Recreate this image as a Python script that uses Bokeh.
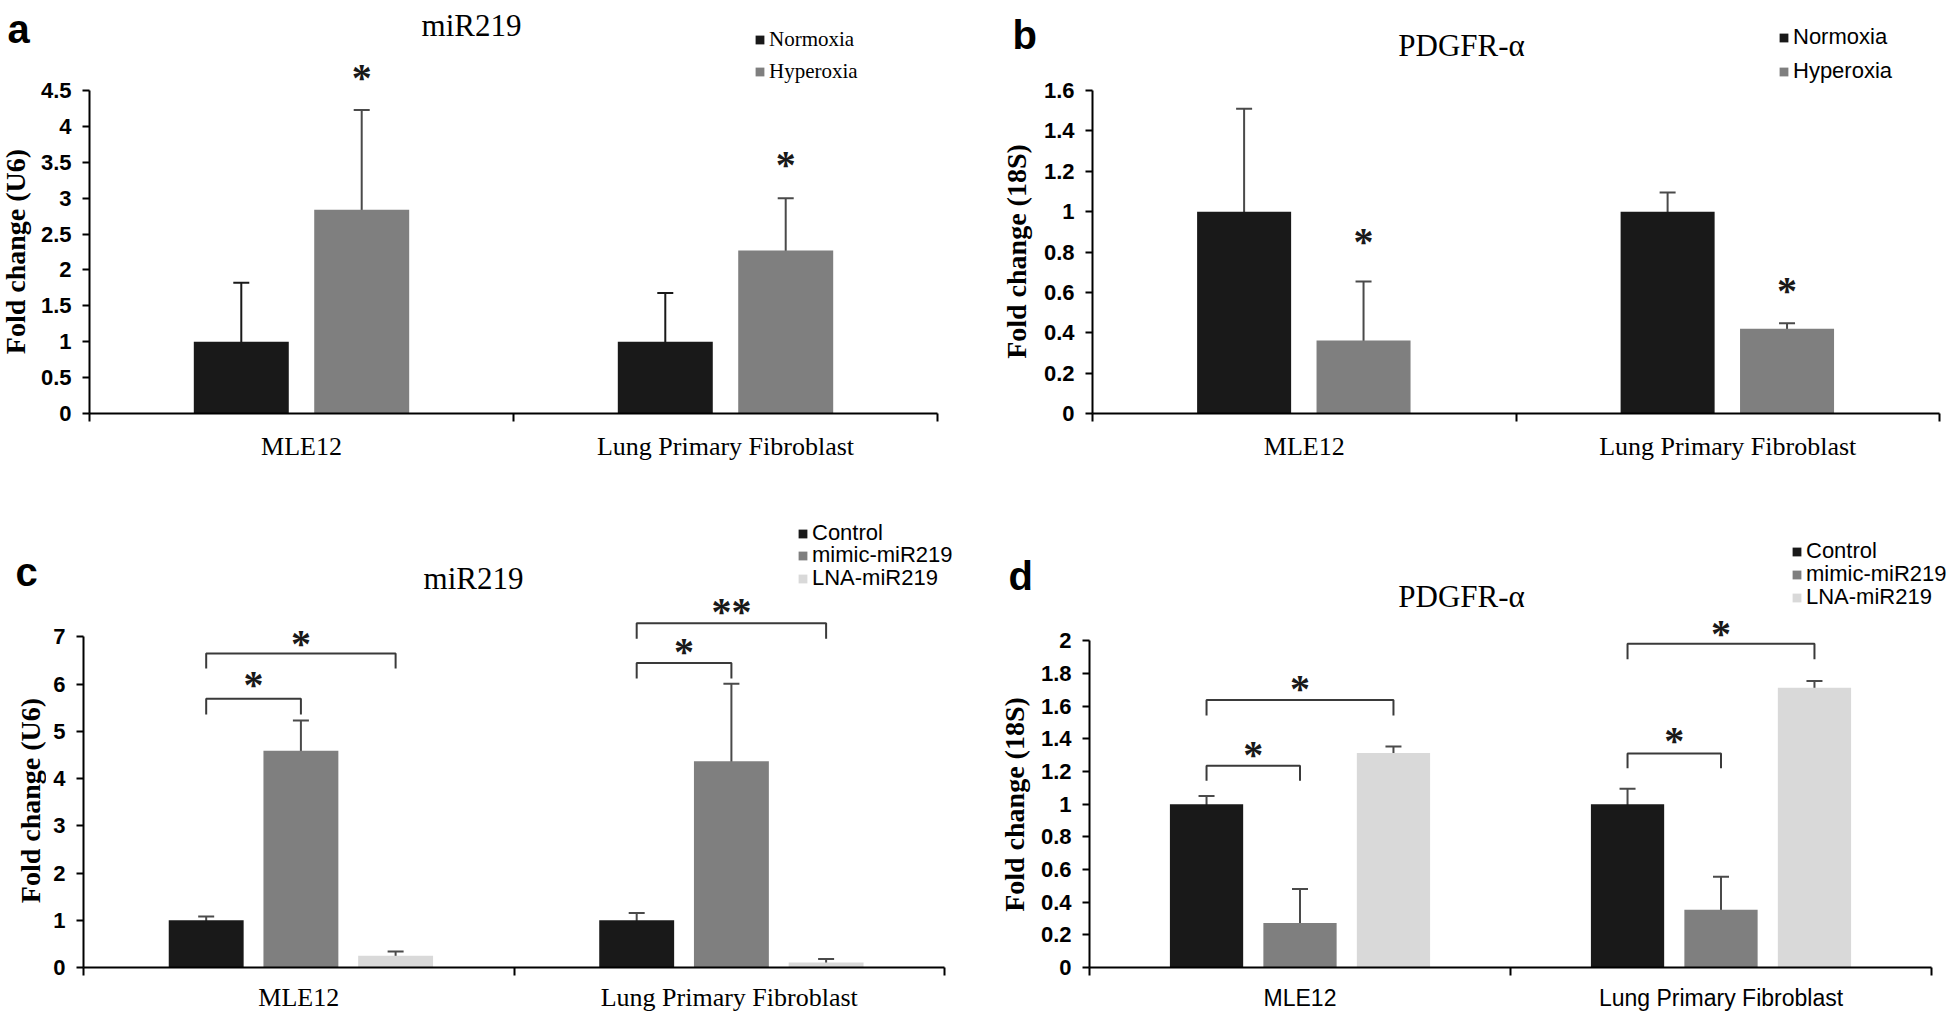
import math
from bokeh.plotting import figure
from bokeh.models import (ColumnDataSource, Whisker, TeeHead, FixedTicker, Label,
                          Legend, LegendItem)
from bokeh.layouts import column, row
from bokeh.embed import file_html
from bokeh.resources import INLINE
from bokeh.core.properties import value

# ---------------- data ----------------
CATEGORIES = ["MLE12", "Lung Primary Fibroblast"]

# panel a : miR219 (U6)
A_NORMOXIA = [1.00, 1.00]
A_NORMOXIA_HI = [1.82, 1.68]
A_NORMOXIA_LO = [0.18, 0.32]
A_HYPEROXIA = [2.84, 2.27]
A_HYPEROXIA_HI = [4.23, 3.00]
A_HYPEROXIA_LO = [1.47, 1.54]
A_STAR_Y = [4.73, 3.52]
A_YTICKS = [0, 0.5, 1, 1.5, 2, 2.5, 3, 3.5, 4, 4.5]

# panel b : PDGFR-a (18S)
B_NORMOXIA = [1.00, 1.00]
B_NORMOXIA_HI = [1.51, 1.095]
B_NORMOXIA_LO = [0.49, 0.91]
B_HYPEROXIA = [0.362, 0.42]
B_HYPEROXIA_HI = [0.654, 0.447]
B_HYPEROXIA_LO = [0.074, 0.405]
B_STAR_Y = [0.87, 0.627]
B_YTICKS = [0, 0.2, 0.4, 0.6, 0.8, 1, 1.2, 1.4, 1.6]

# panel c : miR219 (U6), transfection
C_CONTROL = [1.00, 1.00]
C_CONTROL_HI = [1.08, 1.155]
C_CONTROL_LO = [0.89, 0.815]
C_MIMIC = [4.59, 4.37]
C_MIMIC_HI = [5.23, 6.01]
C_MIMIC_LO = [4.00, 2.71]
C_LNA = [0.25, 0.106]
C_LNA_HI = [0.34, 0.18]
C_LNA_LO = [0.18, 0.02]
C_BR_CAT = [0, 0, 1, 1]
C_BR_FROM = [0, 0, 0, 0]
C_BR_TO = [1, 2, 1, 2]
C_BR_Y = [5.69, 6.65, 6.45, 7.29]
C_BR_LEG = [5.36, 6.33, 6.12, 6.96]
C_BR_MARK = ["*", "*", "*", "**"]
C_BR_MARK_Y = [6.07, 6.95, 6.77, 7.63]
C_YTICKS = [0, 1, 2, 3, 4, 5, 6, 7]

# panel d : PDGFR-a (18S), transfection
D_CONTROL = [1.00, 1.00]
D_CONTROL_HI = [1.05, 1.095]
D_CONTROL_LO = [0.964, 0.913]
D_MIMIC = [0.273, 0.354]
D_MIMIC_HI = [0.48, 0.556]
D_MIMIC_LO = [0.07, 0.145]
D_LNA = [1.313, 1.713]
D_LNA_HI = [1.354, 1.754]
D_LNA_LO = [1.27, 1.673]
D_BR_CAT = [0, 0, 1, 1]
D_BR_FROM = [0, 0, 0, 0]
D_BR_TO = [1, 2, 1, 2]
D_BR_Y = [1.235, 1.638, 1.311, 1.982]
D_BR_LEG = [1.144, 1.544, 1.22, 1.887]
D_BR_MARK = ["*", "*", "*", "*"]
D_BR_MARK_Y = [1.33, 1.735, 1.412, 2.07]
D_YTICKS = [0, 0.2, 0.4, 0.6, 0.8, 1, 1.2, 1.4, 1.6, 1.8, 2]

# ---------------- styles ----------------
BLACK = "#191919"
GRAY = "#7f7f7f"
LIGHT = "#d9d9d9"
WHISK = "#4a4a4a"
BRACKET = "#3a3a3a"
SERIF = "Liberation Serif"
SANS = "Liberation Sans"
STAR_FS = 40
STAR_SHIFT = 4
LEGEND_ITEM_H = 28

ROW1_H, ROW1_B = 508, 95
ROW2_H, ROW2_B = 506, 45


def make_strip(width, height, border_b, letter, letter_xy, ylabel, ylabel_xy):
    """Narrow figure at the left of a panel holding the panel letter and y title."""
    s = figure(width=width, height=height, x_range=(0, 1), y_range=(0, 1),
               x_axis_type=None, y_axis_type=None, output_backend="svg",
               toolbar_location=None, min_border_left=0, min_border_right=0,
               min_border_top=0, min_border_bottom=border_b,
               outline_line_color=None,
               background_fill_color="white", border_fill_color="white")
    s.xgrid.visible = False
    s.ygrid.visible = False
    fb = height - border_b
    lx, ly = letter_xy
    s.add_layout(Label(x=lx, y=fb - ly, x_units="screen", y_units="screen",
                       text=letter, text_font=SANS, text_font_style="bold",
                       text_font_size="40px", text_color="black",
                       text_align="left", text_baseline="alphabetic"))
    ax, ay = ylabel_xy
    s.add_layout(Label(x=ax, y=fb - ay, x_units="screen", y_units="screen",
                       text=ylabel, text_font=SERIF, text_font_style="bold",
                       text_font_size="28px", text_color="black", angle=math.pi / 2,
                       text_align="center", text_baseline="middle"))
    return s


def make_panel(spec):
    W, H = spec["size"]
    L, Bb, top_axis, axis_right = spec["left"], spec["border_b"], spec["axis_top"], spec["axis_right"]
    B = H - Bb
    ncat = len(CATEGORIES)
    ymax = spec["yticks"][-1]
    yend = ymax * B / (B - top_axis)
    xend = ncat * (W - L) / (axis_right - L)
    p = figure(width=W, height=H, x_range=(0, xend), y_range=(0, yend),
               output_backend="svg", toolbar_location=None,
               min_border_left=L, min_border_right=0, min_border_top=0,
               min_border_bottom=Bb, outline_line_color=None,
               background_fill_color="white", border_fill_color="white")
    p.xgrid.visible = False
    p.ygrid.visible = False

    # y axis
    yticks = spec["yticks"]
    p.yaxis.ticker = FixedTicker(ticks=yticks)
    p.yaxis.major_label_overrides = {t: f"{t:g}" for t in yticks}
    p.yaxis.bounds = (0, ymax)
    p.yaxis.axis_line_width = 2
    p.yaxis.axis_line_color = "black"
    p.yaxis.major_tick_line_width = 2
    p.yaxis.major_tick_out = 7
    p.yaxis.major_tick_in = 0
    p.yaxis.minor_tick_out = 0
    p.yaxis.major_label_standoff = 11
    p.yaxis.major_label_text_font = SANS
    p.yaxis.major_label_text_font_style = "bold"
    p.yaxis.major_label_text_font_size = "22px"
    p.yaxis.major_label_text_color = "black"

    # x axis (category labels centred, boundary ticks)
    p.xaxis.ticker = FixedTicker(ticks=[i + 0.5 for i in range(ncat)],
                                 minor_ticks=list(range(ncat + 1)))
    p.xaxis.major_label_overrides = {i + 0.5: c for i, c in enumerate(CATEGORIES)}
    p.xaxis.bounds = (0, ncat)
    p.xaxis.axis_line_width = 2
    p.xaxis.axis_line_color = "black"
    p.xaxis.major_tick_out = 0
    p.xaxis.major_tick_in = 0
    p.xaxis.minor_tick_out = 8
    p.xaxis.minor_tick_in = 0
    p.xaxis.minor_tick_line_width = 2
    p.xaxis.minor_tick_line_color = "black"
    p.xaxis.major_label_standoff = spec["xlabel_standoff"]
    p.xaxis.major_label_text_font = spec["xlabel_font"]
    p.xaxis.major_label_text_font_size = spec["xlabel_size"]
    p.xaxis.major_label_text_color = "black"

    # bars + whiskers
    renderers = []
    xs_by_series = []
    for (name, vals, hi, lo, color, wcolor), off in zip(spec["series"], spec["offsets"]):
        xs = [i + 0.5 + off for i in range(ncat)]
        xs_by_series.append(xs)
        src = ColumnDataSource(dict(x=xs, top=vals, hi=hi, lo=lo))
        r = p.vbar(x="x", top="top", width=spec["bar_width"], bottom=0,
                   source=src, fill_color=color, line_color=None)
        renderers.append((name, r))
        w = Whisker(base="x", upper="hi", lower="lo", source=src,
                    line_color=wcolor, line_width=2,
                    upper_head=TeeHead(size=16, line_color=wcolor, line_width=2),
                    lower_head=TeeHead(size=16, line_color=wcolor, line_width=2))
        p.add_layout(w)

    star_style = dict(text_font=value(SERIF), text_font_style="bold",
                      text_font_size=f"{STAR_FS}px", text_color=BLACK,
                      text_align="center", text_baseline="alphabetic",
                      y_offset=STAR_SHIFT)
    if "stars" in spec:
        sidx, sy = spec["stars"]
        p.text(x=xs_by_series[sidx], y=sy, text=["*"] * len(sy), **star_style)

    if "brackets" in spec:
        cats, froms, tos, ys, legs, marks, marky = spec["brackets"]
        mxs, mys, tx = [], [], []
        for c, f, t, y, lg in zip(cats, froms, tos, ys, legs):
            x0 = xs_by_series[f][c]
            x1 = xs_by_series[t][c]
            mxs.append([x0, x0, x1, x1])
            mys.append([lg, y, y, lg])
            tx.append((x0 + x1) / 2)
        p.multi_line(xs=mxs, ys=mys, line_color=BRACKET, line_width=2)
        p.text(x=tx, y=marky, text=marks, **star_style)

    def scr(fx, fy):
        return int(round(fx - L)), int(round(B - fy))

    # title (inside the frame, which reaches the top of the figure)
    tx_, ty_ = scr(*spec["title_pos"])
    p.add_layout(Label(x=tx_, y=ty_, x_units="screen", y_units="screen",
                       text=spec["title"], text_font=SERIF, text_font_size="31px",
                       text_color="black", text_align="center",
                       text_baseline="alphabetic"))

    # legend: one entry per row so each row sits where it should
    lgx, rows = spec["legend_pos"]
    for (nm, r), rc in zip(renderers, rows):
        lox, loy = scr(lgx, rc + LEGEND_ITEM_H / 2)
        legend = Legend(items=[LegendItem(label=nm, renderers=[r])],
                        location=(lox, loy), glyph_width=11, glyph_height=11,
                        label_height=LEGEND_ITEM_H, spacing=0, padding=0, margin=0,
                        label_standoff=4, border_line_color=None,
                        background_fill_alpha=0,
                        label_text_font=spec["legend_font"],
                        label_text_font_size=spec["legend_size"],
                        label_text_color="black")
        p.add_layout(legend)
    return p


spec_a = dict(
    size=(946, ROW1_H), left=55, border_b=ROW1_B, axis_top=90, axis_right=903,
    yticks=A_YTICKS, bar_width=0.224, offsets=[-0.142, 0.142],
    series=[("Normoxia", A_NORMOXIA, A_NORMOXIA_HI, A_NORMOXIA_LO, BLACK, BLACK),
            ("Hyperoxia", A_HYPEROXIA, A_HYPEROXIA_HI, A_HYPEROXIA_LO, GRAY, WHISK)],
    stars=(1, A_STAR_Y),
    title="miR219", title_pos=(437, 25),
    legend_pos=(720, [39, 71]), legend_font=SERIF, legend_size="21px",
    xlabel_font=SERIF, xlabel_size="26px", xlabel_standoff=10,
)
spec_b = dict(
    size=(922, ROW1_H), left=56, border_b=ROW1_B, axis_top=90, axis_right=903,
    yticks=B_YTICKS, bar_width=0.222, offsets=[-0.142, 0.14],
    series=[("Normoxia", B_NORMOXIA, B_NORMOXIA_HI, B_NORMOXIA_LO, BLACK, WHISK),
            ("Hyperoxia", B_HYPEROXIA, B_HYPEROXIA_HI, B_HYPEROXIA_LO, GRAY, WHISK)],
    stars=(1, B_STAR_Y),
    title="PDGFR-\u03b1", title_pos=(425, 45),
    legend_pos=(742, [37, 71]), legend_font=SANS, legend_size="22px",
    xlabel_font=SERIF, xlabel_size="26px", xlabel_standoff=10,
)
spec_c = dict(
    size=(934, ROW2_H), left=37, border_b=ROW2_B, axis_top=129, axis_right=898,
    yticks=C_YTICKS, bar_width=0.174, offsets=[-0.215, 0.005, 0.225],
    series=[("Control", C_CONTROL, C_CONTROL_HI, C_CONTROL_LO, BLACK, WHISK),
            ("mimic-miR219", C_MIMIC, C_MIMIC_HI, C_MIMIC_LO, GRAY, WHISK),
            ("LNA-miR219", C_LNA, C_LNA_HI, C_LNA_LO, LIGHT, WHISK)],
    brackets=(C_BR_CAT, C_BR_FROM, C_BR_TO, C_BR_Y, C_BR_LEG, C_BR_MARK, C_BR_MARK_Y),
    title="miR219", title_pos=(427, 72),
    legend_pos=(751, [27, 49, 72]), legend_font=SANS, legend_size="22px",
    xlabel_font=SERIF, xlabel_size="26px", xlabel_standoff=7,
)
spec_d = dict(
    size=(924, ROW2_H), left=55, border_b=ROW2_B, axis_top=133, axis_right=897,
    yticks=D_YTICKS, bar_width=0.174, offsets=[-0.222, 0.0, 0.222],
    series=[("Control", D_CONTROL, D_CONTROL_HI, D_CONTROL_LO, BLACK, WHISK),
            ("mimic-miR219", D_MIMIC, D_MIMIC_HI, D_MIMIC_LO, GRAY, WHISK),
            ("LNA-miR219", D_LNA, D_LNA_HI, D_LNA_LO, LIGHT, WHISK)],
    brackets=(D_BR_CAT, D_BR_FROM, D_BR_TO, D_BR_Y, D_BR_LEG, D_BR_MARK, D_BR_MARK_Y),
    title="PDGFR-\u03b1", title_pos=(427, 90),
    legend_pos=(757, [45, 68, 91]), legend_font=SANS, legend_size="22px",
    xlabel_font=SANS, xlabel_size="23px", xlabel_standoff=9,
)

sa = make_strip(34, ROW1_H, ROW1_B, "a", (7, 28), "Fold change (U6)", (15, 251))
pa = make_panel(spec_a)
sb = make_strip(56, ROW1_H, ROW1_B, "b", (32, 34), "Fold change (18S)", (36, 251))
pb = make_panel(spec_b)
sc = make_strip(46, ROW2_H, ROW2_B, "c", (15, 65), "Fold change (U6)", (30, 294))
pc = make_panel(spec_c)
sd = make_strip(54, ROW2_H, ROW2_B, "d", (28, 69), "Fold change (18S)", (34, 298))
pd = make_panel(spec_d)

layout = column(row(sa, pa, sb, pb), row(sc, pc, sd, pd))
open("out.html", "w").write(file_html(layout, INLINE))
